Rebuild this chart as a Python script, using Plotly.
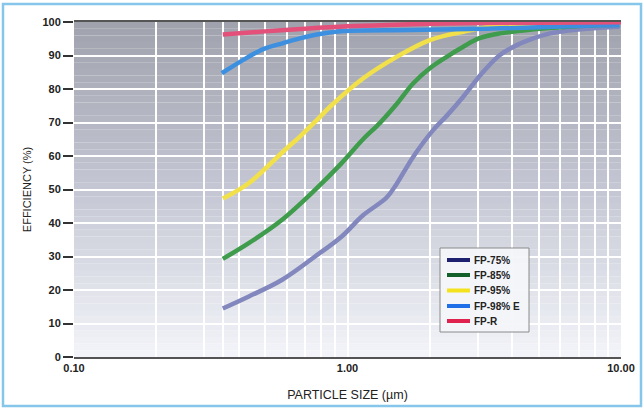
import numpy as np
import plotly.graph_objects as go

# ---- data ----
names = ["FP-75%", "FP-85%", "FP-95%", "FP-98% E", "FP-R"]

fp75_x = [0.35, 0.434, 0.575, 0.761, 0.95, 1.14, 1.39, 1.51, 1.74, 2.06, 2.3, 2.65, 3.14, 3.6, 4.16, 4.78, 5.5, 6.33, 8.4, 9.9]
fp75_y = [14.5, 18.0, 23.0, 30.0, 35.9, 42.3, 47.6, 51.6, 59.8, 67.8, 71.9, 77.7, 85.2, 90.1, 93.1, 95.1, 96.6, 97.4, 98.3, 98.6]

fp85_x = [0.35, 0.434, 0.575, 0.761, 0.95, 1.14, 1.315, 1.513, 1.74, 2.0, 2.305, 2.65, 3.02, 3.61, 4.78, 6.33, 8.4, 9.9]
fp85_y = [29.3, 33.9, 40.9, 49.9, 57.8, 65.0, 69.9, 75.5, 81.7, 86.2, 89.6, 92.6, 95.1, 96.6, 97.8, 98.6, 99.1, 99.2]

fp95_x = [0.35, 0.434, 0.59, 0.67, 0.772, 0.863, 1.142, 1.513, 2.0, 2.65, 3.33, 4.78, 6.33, 9.9]
fp95_y = [47.3, 51.8, 61.8, 65.8, 70.7, 74.7, 83.2, 89.6, 94.6, 97.1, 98.6, 99.1, 99.3, 99.3]

fp98_x = [0.347, 0.416, 0.492, 0.582, 0.67, 0.793, 0.966, 1.69, 3.61, 8.4, 9.9]
fp98_y = [84.7, 88.7, 91.9, 93.7, 95.1, 96.4, 97.3, 97.6, 98.1, 99.0, 99.1]

fpr_x = [0.35, 0.5, 0.7, 1.0, 1.5, 2.0, 3.0, 5.0, 10.0]
fpr_y = [96.3, 97.2, 98.0, 98.7, 99.2, 99.5, 99.7, 99.8, 99.9]

x_grid = [0.1, 0.2, 0.3, 0.35, 0.4, 0.5, 0.6, 0.7, 0.8, 0.9, 1.0,
          2, 3, 4, 5, 6, 7, 8, 9, 10]
x_labels = {0.1: "0.10", 1.0: "1.00", 10: "10.00"}
y_ticks = [0, 10, 20, 30, 40, 50, 60, 70, 80, 90, 100]

series = [(fp75_x, fp75_y), (fp85_x, fp85_y), (fp95_x, fp95_y), (fp98_x, fp98_y), (fpr_x, fpr_y)]
curve_colors = ["#8287bd", "#3f9c4c", "#f2e04a", "#3d90e0", "#e3507a"]
legend_colors = ["#1c206e", "#13602a", "#f4e21e", "#1f6fe8", "#e0224f"]

FONT = "Liberation Sans, Arial, sans-serif"

fig = go.Figure()
for (xs, ys), c, n in zip(series, curve_colors, names):
    fig.add_trace(go.Scatter(x=xs, y=ys, mode="lines", name=n, showlegend=False,
                             line=dict(color=c, width=4.5, shape="spline", smoothing=1.0)))

# plot area in pixels: x 74..621, y 22..357
PL, PR, PT, PB = 74, 621, 22, 357
def px2x(p):
    return (p - PL) / (PR - PL)
def py2y(p):
    return (PB - p) / (PB - PT)

# vertical gradient background (bands)
top = np.array([160, 163, 173])
mid = np.array([197, 200, 212])
bot = np.array([244, 245, 250])
nb = 50
shapes = []
for i in range(nb):
    y0 = 100 * i / nb
    y1 = 100 * (i + 1) / nb
    t = (y0 + y1) / 200.0
    if t < 0.5:
        col = bot + (mid - bot) * (t / 0.5)
    else:
        col = mid + (top - mid) * ((t - 0.5) / 0.5)
    col = col.astype(int)
    shapes.append(dict(type="rect", xref="paper", yref="y", x0=0, x1=1, y0=y0, y1=y1,
                       fillcolor="rgb(%d,%d,%d)" % tuple(col), line=dict(width=0), layer="below"))
# outer light-blue frame
shapes.append(dict(type="rect", xref="paper", yref="paper",
                   x0=px2x(3), x1=px2x(641), y0=py2y(406), y1=py2y(4),
                   line=dict(color="#86c6ea", width=2.5), fillcolor="rgba(0,0,0,0)", layer="below"))

# manual legend (box, line samples, labels)
annotations = []
shapes.append(dict(type="rect", xref="paper", yref="paper",
                   x0=px2x(440), x1=px2x(529), y0=py2y(332), y1=py2y(248),
                   line=dict(color="#8a8a8a", width=1), fillcolor="rgba(244,245,249,0.95)", layer="above"))
entry_y = [260, 275, 290.5, 306, 321]
for n, c, ey in zip(names, legend_colors, entry_y):
    shapes.append(dict(type="line", xref="paper", yref="paper",
                       x0=px2x(447), x1=px2x(470), y0=py2y(ey), y1=py2y(ey),
                       line=dict(color=c, width=4), layer="above"))
    annotations.append(dict(xref="paper", yref="paper", x=px2x(472), y=py2y(ey),
                            xanchor="left", yanchor="middle", text=n, showarrow=False,
                            font=dict(size=10, family=FONT, color="#222", weight="bold")))

fig.update_layout(
    width=644, height=409,
    margin=dict(l=PL, r=644 - PR, t=PT, b=409 - PB),
    paper_bgcolor="white", plot_bgcolor="rgba(0,0,0,0)",
    shapes=shapes, annotations=annotations,
    showlegend=False,
    font=dict(family=FONT, color="#222"),
)
fig.update_xaxes(type="log", range=[-1, 1], automargin=False,
                 tickvals=x_grid, ticktext=[x_labels.get(v, "") for v in x_grid],
                 showgrid=True, gridcolor="white", gridwidth=2,
                 showline=True, linecolor="#555", linewidth=2, mirror=True,
                 ticks="", zeroline=False,
                 tickfont=dict(size=11, family=FONT, color="#222", weight="bold"),
                 title=dict(text="PARTICLE SIZE (µm)", font=dict(size=12.5, family=FONT, color="#222"), standoff=17))
fig.update_yaxes(range=[0, 100], tickvals=y_ticks, automargin=False,
                 showgrid=True, gridcolor="white", gridwidth=2,
                 showline=False, zeroline=False,
                 ticks="outside", ticklen=10, tickwidth=2, tickcolor="#333",
                 tickfont=dict(size=11, family=FONT, color="#222", weight="bold"),
                 title=dict(text="EFFICIENCY (%)", font=dict(size=11, family=FONT, color="#222"), standoff=8))

fig.write_html("out.html", config={"displayModeBar": False},
               post_script="document.body.style.margin='0px';document.body.style.overflow='hidden';")
